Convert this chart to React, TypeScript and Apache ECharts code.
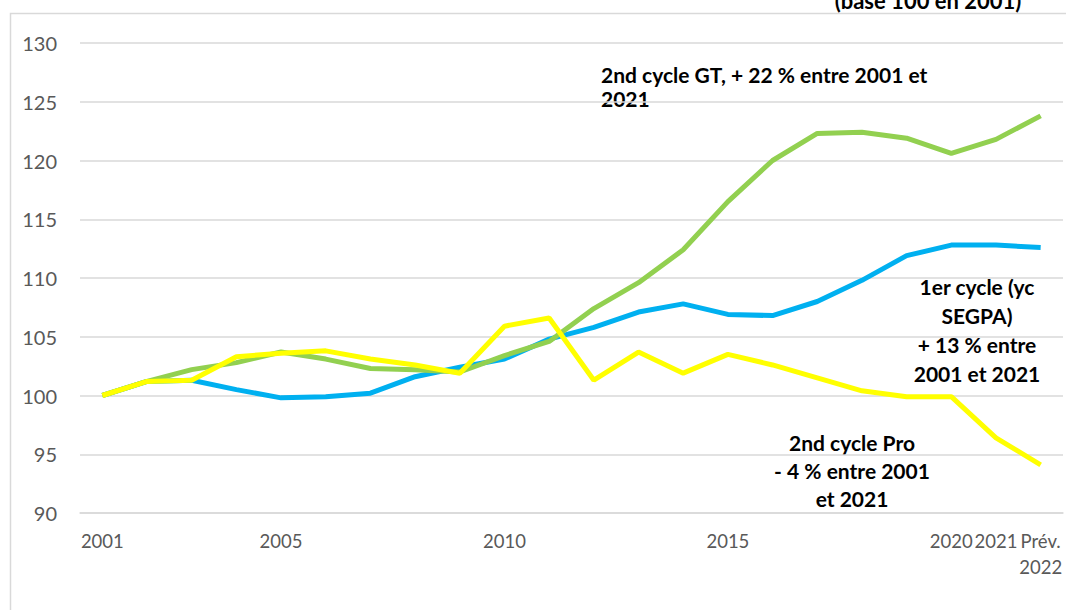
import React, { useEffect, useRef } from "react";
import * as echarts from "echarts";

const categories = [
  "2001", "2002", "2003", "2004", "2005", "2006", "2007", "2008", "2009", "2010",
  "2011", "2012", "2013", "2014", "2015", "2016", "2017", "2018", "2019", "2020",
  "2021", "Prév.\n2022",
];
const shownLabels = ["2001", "2005", "2010", "2015", "2020", "2021", "Prév.\n2022"];

const premierCycle = [
  100, 101.2, 101.3, 100.5, 99.8, 99.9, 100.2, 101.6, 102.4, 103.1,
  104.8, 105.8, 107.1, 107.8, 106.9, 106.8, 108.0, 109.8, 111.9, 112.8,
  112.8, 112.6,
];
const secondCycleGT = [
  100, 101.2, 102.2, 102.8, 103.7, 103.1, 102.3, 102.2, 102.0, 103.4,
  104.6, 107.4, 109.6, 112.4, 116.5, 120.0, 122.3, 122.4, 121.9, 120.6,
  121.8, 123.8,
];
const secondCyclePro = [
  100, 101.2, 101.3, 103.3, 103.6, 103.8, 103.1, 102.6, 101.9, 105.9,
  106.6, 101.3, 103.7, 101.9, 103.5, 102.6, 101.5, 100.4, 99.9, 99.9,
  96.4, 94.1,
];

const FONT = "Lato, 'Open Sans', sans-serif";

export default function App() {
  const ref = useRef<HTMLDivElement>(null);
  useEffect(() => {
    document.body.style.margin = "0";
    const chart = echarts.init(ref.current!, null, { renderer: "svg" });
    const lineStyle = (c: string) => ({ color: c, width: 5 });
    chart.setOption({
      animation: false,
      backgroundColor: "#ffffff",
      grid: { left: 80, right: 3, top: 43, bottom: 97, containLabel: false },
      xAxis: {
        type: "category",
        data: categories,
        boundaryGap: true,
        axisLine: { show: true, lineStyle: { color: "#d9d9d9", width: 1.5 } },
        axisTick: { show: false },
        axisLabel: {
          interval: 0,
          margin: 15,
          color: "#595959",
          fontSize: 18.5,
          fontFamily: FONT,
          lineHeight: 26,
          formatter: (v: string) => (shownLabels.includes(v) ? v : ""),
        },
      },
      yAxis: {
        type: "value",
        min: 90,
        max: 130,
        interval: 5,
        axisLine: { show: false },
        axisTick: { show: false },
        splitLine: { lineStyle: { color: "#d9d9d9", width: 1.5 } },
        axisLabel: { color: "#595959", fontSize: 20, fontFamily: FONT, margin: 23 },
      },
      series: [
        {
          name: "1er cycle (yc SEGPA)",
          type: "line",
          data: premierCycle,
          symbol: "none",
          lineStyle: lineStyle("#00B0F0"),
          z: 2,
        },
        {
          name: "2nd cycle GT",
          type: "line",
          data: secondCycleGT,
          symbol: "none",
          lineStyle: lineStyle("#92D050"),
          z: 3,
        },
        {
          name: "2nd cycle Pro",
          type: "line",
          data: secondCyclePro,
          symbol: "none",
          lineStyle: lineStyle("#FFFF00"),
          z: 4,
        },
      ],
      graphic: [
        {
          type: "rect",
          shape: { x: 10.5, y: 13.5, width: 1100, height: 650 },
          style: { fill: "none", stroke: "#d9d9d9", lineWidth: 1.5 },
          silent: true,
          z: -1,
        },
        {
          type: "text",
          x: 928,
          y: 11,
          style: {
            text: "(base 100 en 2001)",
            font: `bold 22px ${FONT}`,
            fill: "#000",
            textAlign: "center",
            textVerticalAlign: "bottom",
          },
        },
        {
          type: "text",
          x: 601,
          y: 62,
          style: {
            text: "2nd cycle GT, + 22 % entre 2001 et\n2021",
            font: `bold 21px ${FONT}`,
            lineHeight: 24,
            fill: "#000",
            textAlign: "left",
            textVerticalAlign: "top",
          },
        },
        {
          type: "text",
          x: 977,
          y: 271.5,
          style: {
            text: "1er cycle (yc\nSEGPA)\n+ 13 % entre\n2001 et 2021",
            font: `bold 21px ${FONT}`,
            lineHeight: 29,
            fill: "#000",
            textAlign: "center",
            textVerticalAlign: "top",
          },
        },
        {
          type: "text",
          x: 852,
          y: 428,
          style: {
            text: "2nd cycle Pro\n- 4 % entre 2001\net 2021",
            font: `bold 21px ${FONT}`,
            lineHeight: 28,
            fill: "#000",
            textAlign: "center",
            textVerticalAlign: "top",
          },
        },
      ],
    });
    return () => chart.dispose();
  }, []);
  return <div ref={ref} style={{ width: 1066, height: 610 }} />;
}
